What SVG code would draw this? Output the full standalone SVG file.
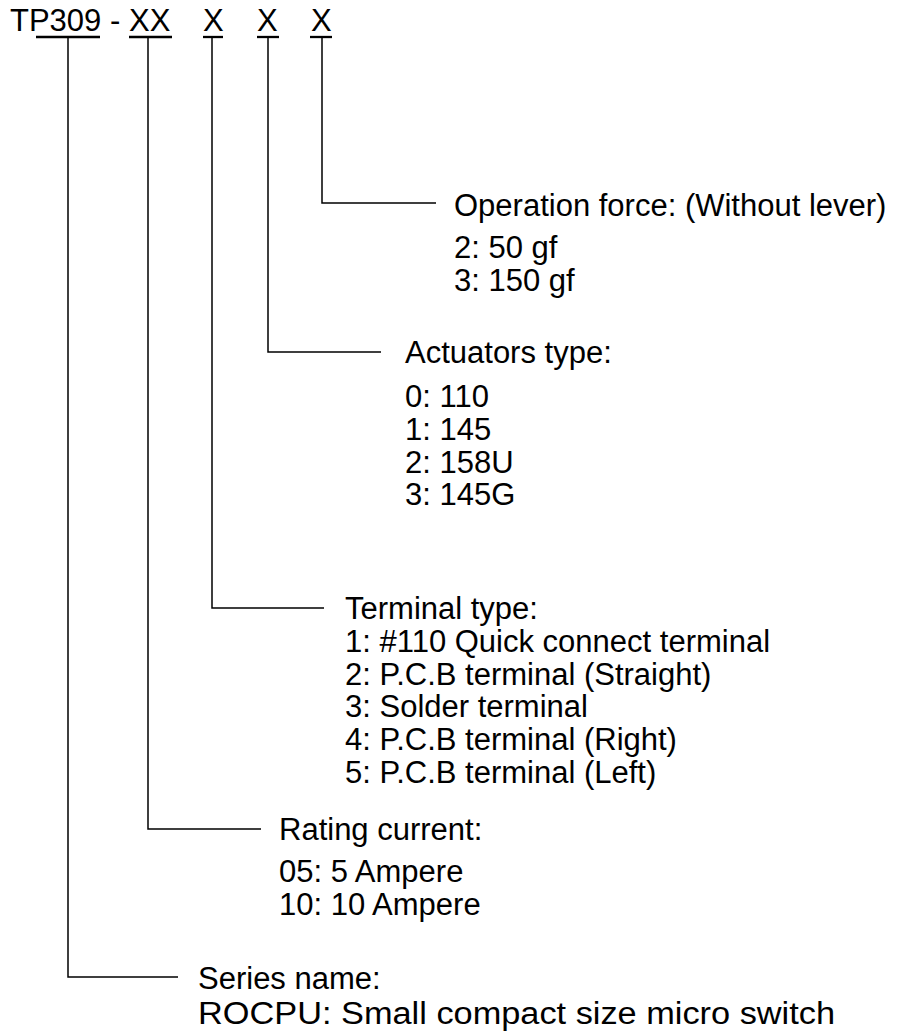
<svg xmlns="http://www.w3.org/2000/svg" width="899" height="1032" viewBox="0 0 899 1032">
<style>
text{font-family:"Liberation Sans",Arial,sans-serif;font-size:31px;fill:#000}
.c{fill:none;stroke:#000;stroke-width:1.5}
.u{stroke:#000;stroke-width:2.3}
</style>
<rect width="899" height="1032" fill="#fff"/>
<g id="code">
<text x="10" y="31">TP309</text>
<text x="110" y="31">-</text>
<text x="129" y="31">XX</text>
<text x="203" y="31">X</text>
<text x="257" y="31">X</text>
<text x="311" y="31">X</text>
<line class="u" x1="36" y1="37" x2="100" y2="37"/>
<line class="u" x1="129" y1="37" x2="172" y2="37"/>
<line class="u" x1="203" y1="37" x2="223" y2="37"/>
<line class="u" x1="257" y1="37" x2="279" y2="37"/>
<line class="u" x1="310" y1="37" x2="332" y2="37"/>
</g>
<g id="connectors">
<path class="c" d="M322 38V203H436"/>
<path class="c" d="M268 38V352H381"/>
<path class="c" d="M212 38V608H324"/>
<path class="c" d="M148 38V829H261"/>
<path class="c" d="M68 38V977H178"/>
</g>
<g id="operation">
<text x="454" y="216">Operation force: (Without lever)</text>
<text x="454" y="258">2: 50 gf</text>
<text x="454" y="291">3: 150 gf</text>
</g>
<g id="actuators">
<text x="405" y="363">Actuators type:</text>
<text x="405" y="407">0: 110</text>
<text x="405" y="440">1: 145</text>
<text x="405" y="473">2: 158U</text>
<text x="405" y="505">3: 145G</text>
</g>
<g id="terminal">
<text x="345" y="619">Terminal type:</text>
<text x="345" y="652">1: #110 Quick connect terminal</text>
<text x="345" y="685">2: P.C.B terminal (Straight)</text>
<text x="345" y="717">3: Solder terminal</text>
<text x="345" y="750">4: P.C.B terminal (Right)</text>
<text x="345" y="783">5: P.C.B terminal (Left)</text>
</g>
<g id="rating">
<text x="279" y="840">Rating current:</text>
<text x="279" y="882">05: 5 Ampere</text>
<text x="279" y="915">10: 10 Ampere</text>
</g>
<g id="series">
<text x="198" y="989">Series name:</text>
<text x="198" y="1024" textLength="637" lengthAdjust="spacingAndGlyphs">ROCPU: Small compact size micro switch</text>
</g>
</svg>
